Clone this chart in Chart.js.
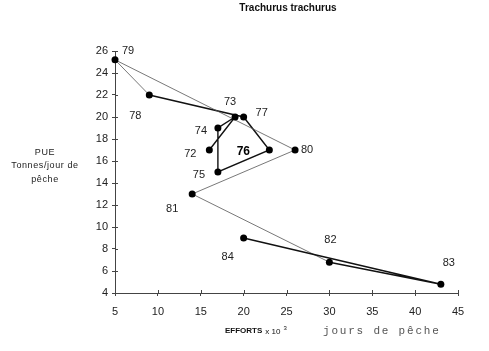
<!DOCTYPE html>
<html>
<head>
<meta charset="utf-8">
<script src="https://cdn.jsdelivr.net/npm/chart.js@4/dist/chart.umd.min.js"></script>
<style>
html,body{margin:0;padding:0;background:#fff;}
#wrap{width:489px;height:351px;position:relative;}
</style>
</head>
<body>
<div id="wrap"><canvas id="c" width="489" height="351"></canvas></div>
<script>
const years = ['72','73','74','75','76','77','78','79','80','81','82','83','84'];
const effort = [16, 19, 17, 17, 23, 20, 9, 5, 26, 14, 30, 43, 20];
const pue = [17, 20, 19, 15, 17, 20, 22, 25.2, 17, 13, 6.8, 4.8, 9];
const xTicks = [5, 10, 15, 20, 25, 30, 35, 40, 45];
const yTicks = [4, 6, 8, 10, 12, 14, 16, 18, 20, 22, 24, 26];

const chartTitle = 'Trachurus trachurus';
const yTitle = ['PUE', 'Tonnes/jour de', 'pêche'];

// label offsets (styling) in px relative to each point
const labelOffsets = [[-19,4],[-5,-15],[-17,3],[-19,3],[-26,2],[18,-4],[-14,21],[13,-9],[12,0],[-20,15],[1,-22],[8,-21],[-16,19]];
const thinSegments = [6,7,8,9];

const points = effort.map((x,i)=>({x:x, y:pue[i]}));

const textPlugin = {
  id:'texts',
  afterDraw(chart){
    const ctx = chart.ctx;
    const meta = chart.getDatasetMeta(0);
    const xs = chart.scales.x, ys = chart.scales.y;
    ctx.save();
    // inner tick halves
    ctx.strokeStyle = '#444';
    ctx.lineWidth = 1;
    xTicks.forEach(v=>{
      const px = Math.round(xs.getPixelForValue(v))+0.5;
      ctx.beginPath(); ctx.moveTo(px, ys.bottom); ctx.lineTo(px, ys.bottom-3); ctx.stroke();
    });
    yTicks.forEach(v=>{
      const py = Math.round(ys.getPixelForValue(v))+0.5;
      ctx.beginPath(); ctx.moveTo(xs.left, py); ctx.lineTo(xs.left+3, py); ctx.stroke();
    });
    // point labels
    ctx.textAlign='center'; ctx.textBaseline='middle';
    years.forEach((lab,i)=>{
      const el = meta.data[i];
      const o = labelOffsets[i];
      if (lab==='76'){ ctx.font='bold 12px "Liberation Sans", Arial'; ctx.fillStyle='#000'; }
      else { ctx.font='11px "Liberation Sans", Arial'; ctx.fillStyle='#222'; }
      ctx.fillText(lab, el.x+o[0], el.y+o[1]);
    });
    // title
    ctx.font='bold 10px "Liberation Sans Narrow", "Liberation Sans", Arial';
    ctx.fillStyle='#111';
    ctx.fillText(chartTitle, 288, 8);
    // y title
    ctx.font='9px "Liberation Sans", Arial';
    ctx.fillStyle='#222';
    if ('letterSpacing' in ctx) ctx.letterSpacing='0.6px';
    ctx.fillText(yTitle[0], 45, 153);
    ctx.fillText(yTitle[1], 45, 166);
    ctx.fillText(yTitle[2], 45, 180);
    if ('letterSpacing' in ctx) ctx.letterSpacing='0px';
    // x title
    ctx.textAlign='left';
    let x0 = 225;
    ctx.font='bold 8px "Liberation Sans Narrow", "Liberation Sans", Arial';
    ctx.fillStyle='#111';
    ctx.fillText('EFFORTS', x0, 331);
    x0 += ctx.measureText('EFFORTS').width + 3;
    ctx.font='8px "Liberation Sans", Arial';
    ctx.fillText('x 10', x0, 332);
    x0 += ctx.measureText('x 10').width + 3;
    ctx.font='6px "Liberation Sans", Arial';
    ctx.fillText('3', x0, 328);
    ctx.font='11px "Liberation Mono", monospace';
    ctx.fillStyle='#555';
    if ('letterSpacing' in ctx) ctx.letterSpacing='1.8px';
    ctx.fillText('jours de pêche', 323, 331);
    ctx.restore();
  }
};

new Chart(document.getElementById('c'), {
  type:'line',
  data:{
    datasets:[{
      data: points,
      showLine:true,
      clip:false,
      borderColor:'#111',
      borderWidth:1.4,
      pointRadius:3.5,
      pointBackgroundColor:'#000',
      pointBorderColor:'#000',
      pointBorderWidth:0,
      pointStyle:'circle',
      tension:0,
      segment:{
        borderWidth: c => thinSegments.includes(c.p0DataIndex) ? 0.8 : 1.4,
        borderColor: c => thinSegments.includes(c.p0DataIndex) ? '#555' : '#111'
      }
    }]
  },
  options:{
    responsive:false,
    animation:false,
    layout:{padding:{left:0,right:31,top:51,bottom:0}},
    plugins:{legend:{display:false},tooltip:{enabled:false},title:{display:false}},
    scales:{
      x:{
        type:'linear', min:5, max:45,
        afterBuildTicks: s => { s.ticks = xTicks.map(v=>({value:v})); },
        afterFit: s => { s.height = 58; },
        border:{color:'#444', width:1},
        grid:{display:true, drawOnChartArea:false, drawTicks:true, tickLength:3, color:'#444'},
        ticks:{color:'#222', font:{family:'"Liberation Sans", Arial', size:11}, padding:9, maxRotation:0}
      },
      y:{
        type:'linear', min:4, max:26,
        afterBuildTicks: s => { s.ticks = yTicks.map(v=>({value:v})); },
        afterFit: s => { s.width = 115; },
        border:{color:'#444', width:1},
        grid:{display:true, drawOnChartArea:false, drawTicks:true, tickLength:3, color:'#444'},
        ticks:{color:'#222', font:{family:'"Liberation Sans", Arial', size:11}, padding:4}
      }
    }
  },
  plugins:[textPlugin]
});
</script>
</body>
</html>
